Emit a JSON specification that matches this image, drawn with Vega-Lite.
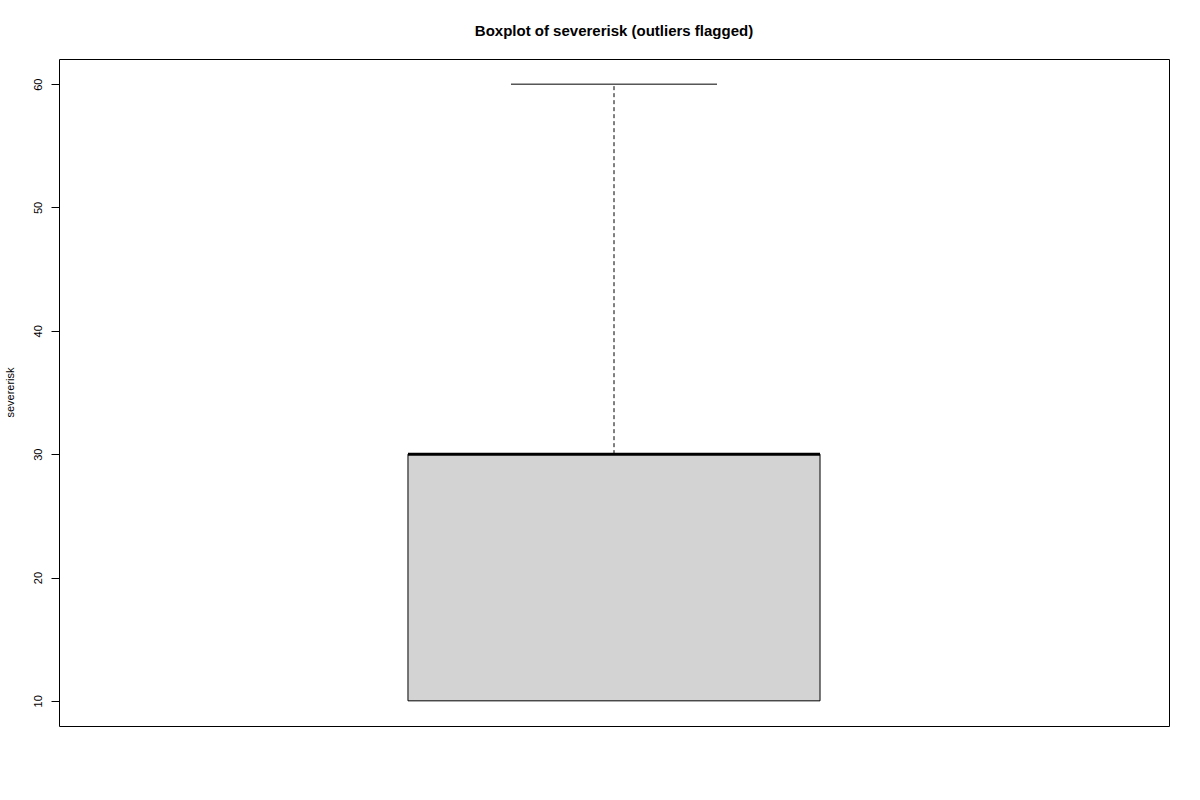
{
  "$schema": "https://vega.github.io/schema/vega-lite/v6.json",
  "width": 1110,
  "height": 667,
  "autosize": {"type": "none"},
  "padding": {"left": 59, "top": 59, "right": 31, "bottom": 74},
  "background": "white",
  "config": {
    "font": "Liberation Sans",
    "view": {"stroke": "black", "strokeWidth": 1}
  },
  "title": {
    "text": "Boxplot of severerisk (outliers flagged)",
    "fontSize": 15,
    "fontWeight": "bold",
    "font": "Liberation Sans",
    "color": "black",
    "anchor": "middle",
    "offset": 20
  },
  "data": {"values": [
    {"variable": "severerisk", "min": 10, "q1": 10, "median": 30, "q3": 30, "max": 60}
  ]},
  "layer": [
    {
      "mark": {"type": "rect", "fill": "#d3d3d3", "stroke": "black", "strokeWidth": 1},
      "encoding": {
        "x": {"datum": 0.8144, "type": "quantitative", "scale": {"domain": [0.5, 1.5], "nice": false, "zero": false}, "axis": null},
        "x2": {"datum": 1.1856},
        "y": {"field": "q1", "type": "quantitative",
          "scale": {"domain": [7.96, 62.04], "nice": false, "zero": false},
          "axis": {
            "title": "severerisk",
            "titleFontSize": 11, "titleFontWeight": "normal", "titleColor": "black",
            "titleAngle": -90, "titleAlign": "center", "titleBaseline": "middle",
            "titleX": -48.5, "titleY": 333,
            "values": [10, 20, 30, 40, 50, 60],
            "domain": false, "grid": false,
            "tickColor": "black", "tickSize": 8, "tickWidth": 1,
            "labelAngle": -90, "labelAlign": "center", "labelBaseline": "bottom",
            "labelPadding": 8, "labelFontSize": 11, "labelColor": "black"
          }},
        "y2": {"field": "q3"}
      }
    },
    {
      "mark": {"type": "rule", "color": "black", "strokeWidth": 3},
      "encoding": {
        "x": {"datum": 0.8144, "type": "quantitative"},
        "x2": {"datum": 1.1856},
        "y": {"field": "median", "type": "quantitative"}
      }
    },
    {
      "mark": {"type": "rule", "color": "black", "strokeWidth": 1, "strokeDash": [4, 3]},
      "encoding": {
        "x": {"datum": 1, "type": "quantitative"},
        "y": {"field": "q3", "type": "quantitative"},
        "y2": {"field": "max"}
      }
    },
    {
      "mark": {"type": "rule", "color": "black", "strokeWidth": 1},
      "encoding": {
        "x": {"datum": 0.9072, "type": "quantitative"},
        "x2": {"datum": 1.0928},
        "y": {"field": "max", "type": "quantitative"}
      }
    }
  ]
}
